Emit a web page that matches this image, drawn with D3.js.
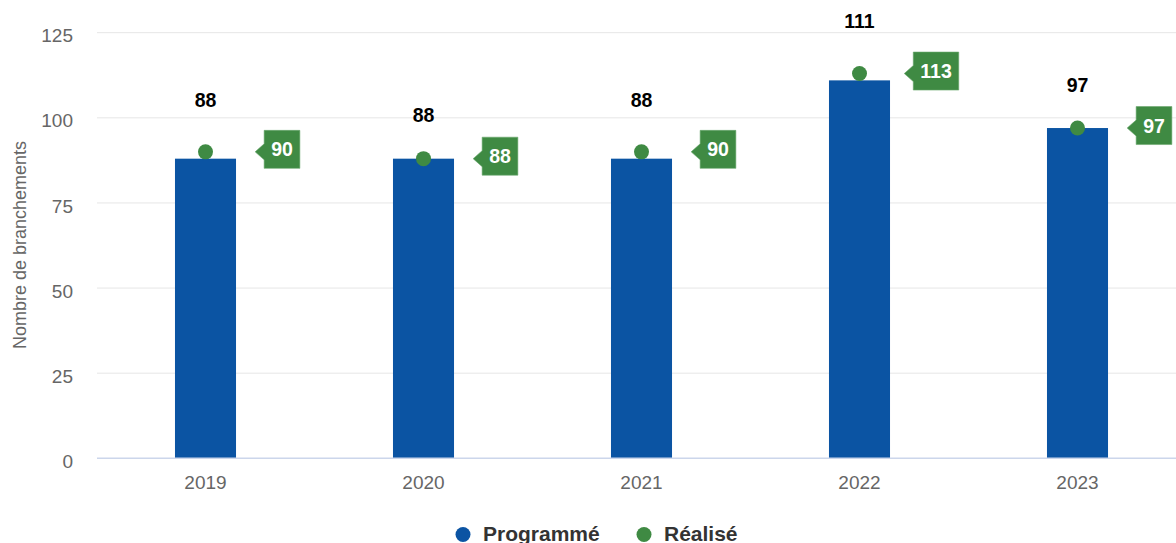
<!DOCTYPE html>
<html><head><meta charset="utf-8">
<script src="https://cdn.jsdelivr.net/npm/d3@7"></script>
<style>
html,body{margin:0;padding:0;background:#fff;}
svg{display:block;font-family:"Liberation Sans",Arial,Helvetica,sans-serif;}
</style></head>
<body><svg id="c" width="1176" height="543"></svg>
<script>
const categories = ["2019","2020","2021","2022","2023"];
const programme = [88, 88, 88, 111, 97];
const realise = [90, 88, 90, 113, 97];
const yTicks = [0, 25, 50, 75, 100, 125];
const seriesNames = ["Programmé", "Réalisé"];
const colors = {prog:"#0b54a3", real:"#3f8a43"};

const svg = d3.select("#c");
const x = d3.scaleBand().domain(categories).range([96.5, 1186.5]).paddingInner(0.72).paddingOuter(0.36);
const y = d3.scaleLinear().domain([0, 125]).range([458.3, 32.7]);
const cx = c => x(c) + x.bandwidth()/2;

// grid
svg.append("g").selectAll("line").data(yTicks.filter(t=>t>0)).join("line")
  .attr("x1",97).attr("x2",1187).attr("y1",d=>y(d)).attr("y2",d=>y(d))
  .attr("stroke","#e6e6e6").attr("stroke-width",1);

// y axis labels
const yAxis = d3.axisLeft(y).tickValues(yTicks).tickSize(0).tickPadding(0);
const ya = svg.append("g").attr("transform","translate(73,0)").call(yAxis);
ya.select(".domain").remove();
ya.selectAll("text").attr("font-size",19).attr("fill","#666").attr("dy","0.48em")
  .style("font-family","'Liberation Sans',Arial,sans-serif");

// y title
svg.append("text").attr("transform","translate(25.5,245) rotate(-90)")
  .attr("text-anchor","middle").attr("font-size",18).attr("fill","#666")
  .text("Nombre de branchements");

// bars
svg.append("g").selectAll("rect").data(categories).join("rect")
  .attr("x",d=>x(d)).attr("width",x.bandwidth())
  .attr("y",(d,i)=>y(programme[i])).attr("height",(d,i)=>y(0)-y(programme[i]))
  .attr("fill",colors.prog);

// x axis
svg.append("line").attr("x1",97).attr("x2",1187).attr("y1",458.3).attr("y2",458.3)
  .attr("stroke","#ccd6eb").attr("stroke-width",1.5);
const xAxis = d3.axisBottom(x).tickSize(0).tickPadding(0);
const xa = svg.append("g").attr("transform","translate(0,458.3)").call(xAxis);
xa.select(".domain").remove();
xa.selectAll("text").attr("font-size",19).attr("fill","#666").attr("dy","0").attr("y",31)
  .style("font-family","'Liberation Sans',Arial,sans-serif");

// bar value labels
svg.append("g").selectAll("text").data(categories).join("text")
  .attr("x",d=>cx(d))
  .attr("y",(d,i)=>y(programme[i]) - (realise[i] > programme[i] ? 52 : 36.4))
  .attr("text-anchor","middle").attr("font-size",19.5).attr("font-weight","bold").attr("fill","#000")
  .text((d,i)=>programme[i]);

// points
svg.append("g").selectAll("circle").data(categories).join("circle")
  .attr("cx",d=>cx(d)).attr("cy",(d,i)=>y(realise[i])).attr("r",7.5)
  .attr("fill",colors.real);

// callout labels (box centred at cx + 76.5)
const cl = svg.append("g").selectAll("g").data(categories).join("g")
  .attr("transform",(d,i)=>`translate(${cx(d)+76.5},${y(realise[i])})`);
cl.each(function(d,i){
  const g = d3.select(this);
  const path = g.append("path");
  const t = g.append("text").attr("font-size",19.5).attr("font-weight","bold")
    .attr("fill","#fff").attr("text-anchor","middle").text(realise[i]);
  const w = t.node().getComputedTextLength();
  const bw = w + 14, bh = 38, top = -21.5;
  const L = -bw/2, R = bw/2, tip = L - 9;
  path.attr("d",`M${tip},0 L${L},-8 L${L},${top} L${R},${top} L${R},${top+bh} L${L},${top+bh} L${L},8 Z`)
    .attr("fill",colors.real).attr("stroke","#6aa86d").attr("stroke-width",0.6);
  t.attr("x",0).attr("y",top+bh/2+7);
});

// legend
const leg = svg.append("g");
const legX = [463, 644];
leg.selectAll("circle").data(seriesNames).join("circle")
  .attr("cx",(d,i)=>legX[i]).attr("cy",534.5).attr("r",7.5)
  .attr("fill",(d,i)=>i===0?colors.prog:colors.real);
leg.selectAll("text").data(seriesNames).join("text")
  .attr("x",(d,i)=>legX[i]+20).attr("y",540.5).attr("font-size",21).attr("font-weight","bold")
  .attr("fill","#333").text(d=>d);
</script></body></html>
